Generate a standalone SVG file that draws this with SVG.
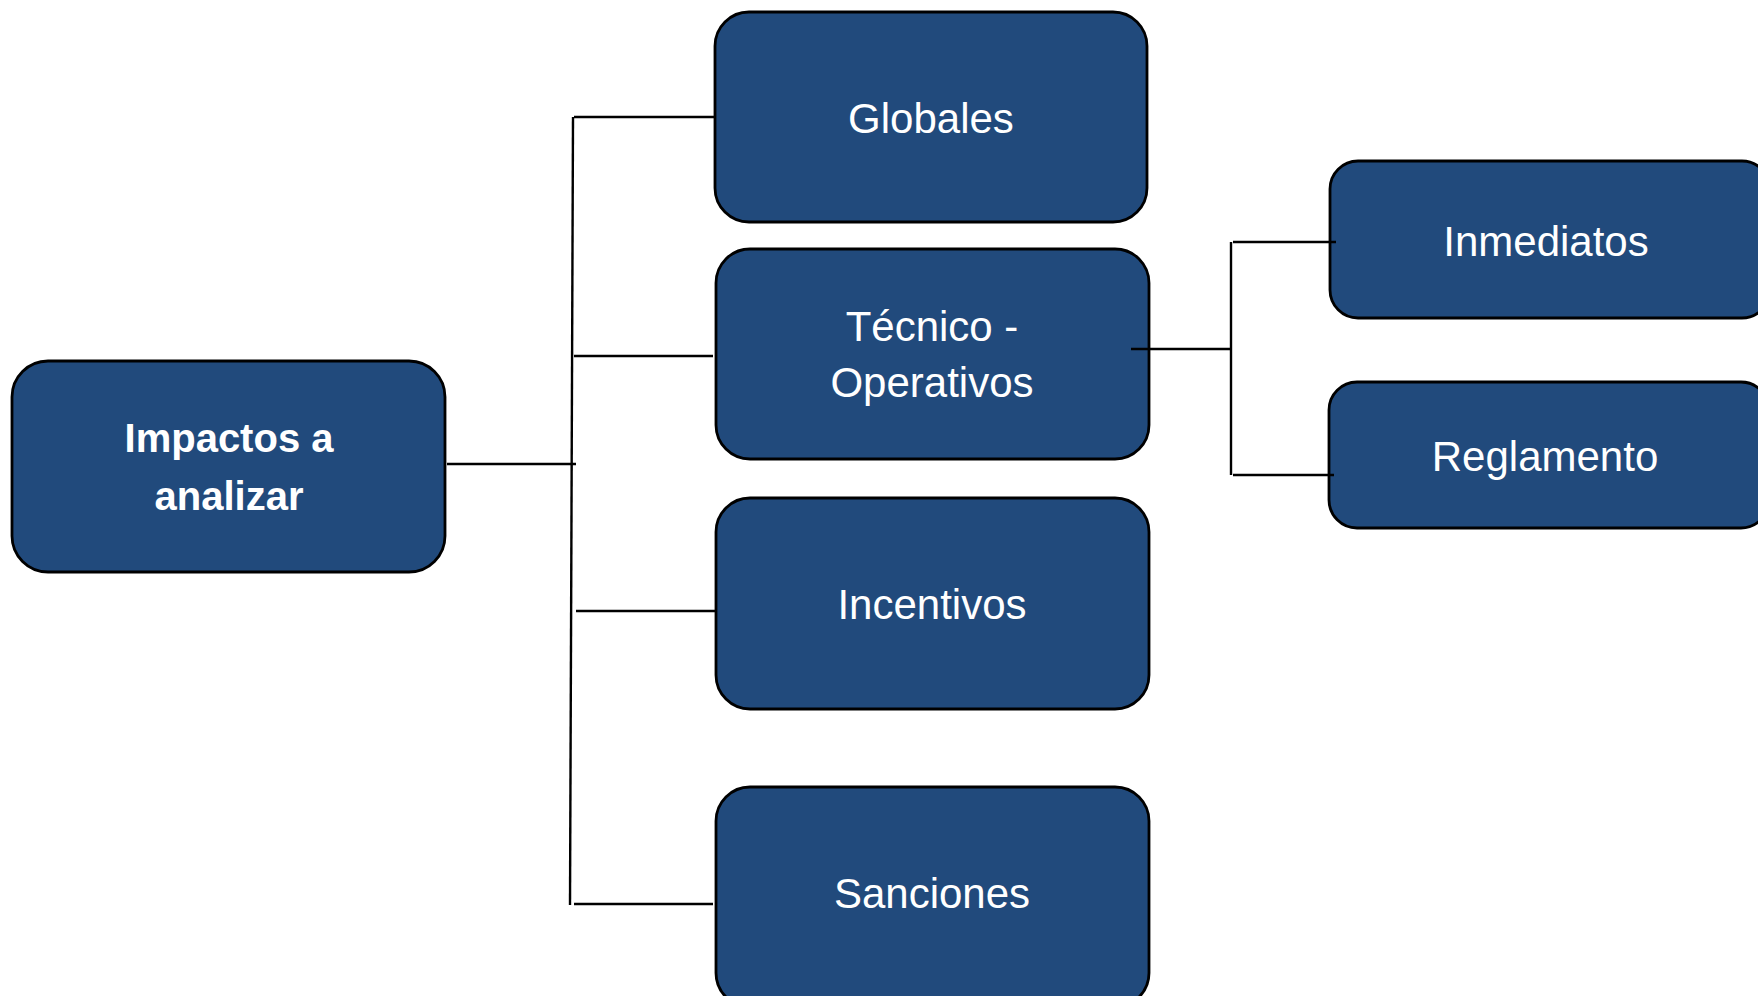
<svg xmlns="http://www.w3.org/2000/svg" width="1758" height="996" viewBox="0 0 1758 996">
<style>
.box{fill:#214a7c;stroke:#000;stroke-width:2.8}
.t{fill:#fff;font-family:"Liberation Sans",Arial,sans-serif;font-size:42px;text-anchor:middle}
.b{font-weight:bold;font-size:40px}
.c{stroke:#000;stroke-width:2.4;fill:none}
</style>
<rect width="1758" height="996" fill="#fff"/>
<g id="impactos">
<rect class="box" x="12" y="361" width="433" height="211" rx="36"/>
<text class="t b" x="229" y="452">Impactos a</text>
<text class="t b" x="229" y="510">analizar</text>
</g>
<g id="globales">
<rect class="box" x="715" y="12" width="432" height="210" rx="34"/>
<text class="t" x="931" y="133">Globales</text>
</g>
<g id="tecnico">
<rect class="box" x="716" y="249" width="433" height="210" rx="34"/>
<text class="t" x="932" y="341">Técnico -</text>
<text class="t" x="932" y="397">Operativos</text>
</g>
<g id="incentivos">
<rect class="box" x="716" y="498" width="433" height="211" rx="34"/>
<text class="t" x="932" y="619">Incentivos</text>
</g>
<g id="sanciones">
<rect class="box" x="716" y="787" width="433" height="220" rx="34"/>
<text class="t" x="932" y="908">Sanciones</text>
</g>
<g id="inmediatos">
<rect class="box" x="1330" y="161" width="440" height="157" rx="28"/>
<text class="t" x="1546" y="256">Inmediatos</text>
</g>
<g id="reglamento">
<rect class="box" x="1329" y="382" width="440" height="146" rx="28"/>
<text class="t" x="1545" y="471">Reglamento</text>
</g>
<g id="connectors">
<line class="c" x1="447" y1="464" x2="576" y2="464"/>
<line class="c" x1="573" y1="117" x2="570" y2="905"/>
<line class="c" x1="574" y1="117" x2="715" y2="117"/>
<line class="c" x1="574" y1="356" x2="713" y2="356"/>
<line class="c" x1="576" y1="611" x2="715" y2="611"/>
<line class="c" x1="574" y1="904" x2="713" y2="904"/>
<line class="c" x1="1131" y1="349" x2="1231" y2="349"/>
<line class="c" x1="1231" y1="242" x2="1231" y2="475"/>
<line class="c" x1="1233" y1="242" x2="1336" y2="242"/>
<line class="c" x1="1233" y1="475" x2="1334" y2="475"/>
</g>
</svg>
